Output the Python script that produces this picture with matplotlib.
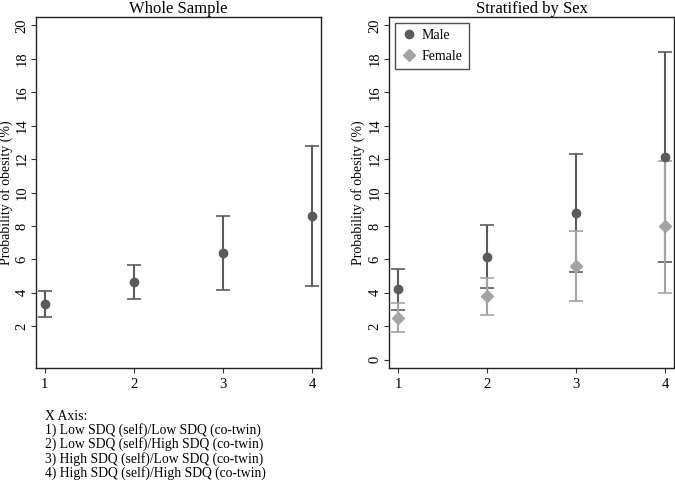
import numpy as np
import matplotlib.pyplot as plt

plt.rcParams['font.family'] = ['Liberation Serif', 'DejaVu Serif']

# Group positions and point estimates / confidence limits (%)
groups = [1, 2, 3, 4]

whole_est = [3.33, 4.65, 6.39, 8.58]
whole_lo = [2.56, 3.65, 4.19, 4.39]
whole_hi = [4.13, 5.65, 8.60, 12.78]

male_est = [4.22, 6.17, 8.78, 12.11]
male_lo = [2.99, 4.31, 5.23, 5.83]
male_hi = [5.45, 8.04, 12.31, 18.42]

female_est = [2.50, 3.79, 5.59, 8.02]
female_lo = [1.64, 2.69, 3.51, 4.00]
female_hi = [3.39, 4.89, 7.68, 11.90]

x_notes = [
    "X Axis:",
    "1) Low SDQ (self)/Low SDQ (co-twin)",
    "2) Low SDQ (self)/High SDQ (co-twin)",
    "3) High SDQ (self)/Low SDQ (co-twin)",
    "4) High SDQ (self)/High SDQ (co-twin)",
]

dark = '#5b5b5b'
light = '#a3a3a3'

fig = plt.figure(figsize=(6.75, 4.8), dpi=100)
ax1 = fig.add_axes([0.0533, 0.2333, 0.4223, 0.7313])
ax2 = fig.add_axes([0.5768, 0.2333, 0.4217, 0.7313])


def err(est, lo, hi):
    est = np.array(est)
    return [est - np.array(lo), np.array(hi) - est]


def style(ax, title, yticks, label_x):
    ax.set_xlim(0.9, 4.1)
    ax.set_ylim(-0.5, 20.5)
    ax.set_xticks(groups)
    ax.set_yticks(yticks)
    ax.tick_params(axis='y', labelrotation=90, labelsize=10.5, length=3.5,
                   pad=2, color='#333333')
    ax.tick_params(axis='x', labelsize=10.5, length=3.5, pad=4, color='#333333')
    for lab in ax.get_yticklabels():
        lab.set_va('center')
    ax.set_ylabel("Probability of obesity (%)", fontsize=10)
    ax.yaxis.set_label_coords(label_x, 0.5)
    ax.set_title(title, fontsize=12, pad=2)
    for s in ax.spines.values():
        s.set_color('#222222')
        s.set_linewidth(1.0)


# Whole sample
ax1.errorbar(groups, whole_est, yerr=err(whole_est, whole_lo, whole_hi),
             fmt='o', color=dark, ms=6, capsize=5, elinewidth=1.5, capthick=1.2)
style(ax1, "Whole Sample", np.arange(2, 21, 2), -0.082)

# Stratified by sex
ax2.errorbar(groups, male_est, yerr=err(male_est, male_lo, male_hi),
             fmt='o', color=dark, ms=6, capsize=5, elinewidth=1.5, capthick=1.2,
             label='Male')
ax2.errorbar(groups, female_est, yerr=err(female_est, female_lo, female_hi),
             fmt='D', color=light, ms=6.5, capsize=5, elinewidth=1.5, capthick=1.2,
             label='Female')
style(ax2, "Stratified by Sex", np.arange(0, 21, 2), -0.085)

handles, labels = ax2.get_legend_handles_labels()
handles = [h[0] for h in handles]
leg = ax2.legend(handles, labels, loc='upper left', fontsize=10, frameon=True,
                 fancybox=False, edgecolor='#222222', borderpad=0.45,
                 handletextpad=0.3, handlelength=1.2, borderaxespad=0.4,
                 labelspacing=0.6)
leg.get_frame().set_linewidth(1.0)

fig.text(0.066, 0.073, "\n".join(x_notes), fontsize=9.8, va='center', ha='left',
         linespacing=1.03)

fig.savefig("out.png", dpi=100)
